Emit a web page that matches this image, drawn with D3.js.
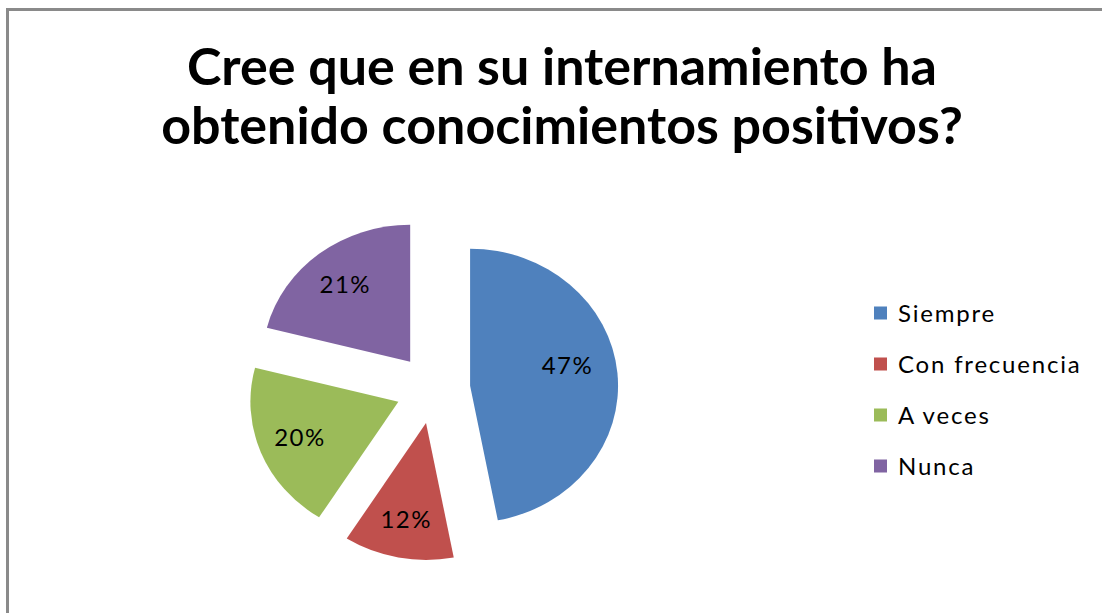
<!DOCTYPE html>
<html>
<head>
<meta charset="utf-8">
<script src="https://cdn.jsdelivr.net/npm/d3@7"></script>
<style>
  html, body { margin: 0; padding: 0; background: #fff; }
  svg { display: block; }
</style>
</head>
<body>
<svg id="chart" width="1102" height="613"></svg>
<script>
// ---- data ----
const titleLines = ["Cree que en su internamiento ha", "obtenido conocimientos positivos?"];
const categories = ["Siempre", "Con frecuencia", "A veces", "Nunca"];
const values = [47, 12, 20, 21];
const valueLabels = ["47%", "12%", "20%", "21%"];
const colors = ["#4F81BD", "#C0504D", "#9BBB59", "#8064A2"];

// ---- layout ----
const W = 1102, H = 613;
const cx = 433, cy = 389;       // pie centre
const R = 137;                  // radius (vertical)
const kx = 1.08;                // horizontal stretch of the picture
const explode = 34.5;           // explosion distance
const labelR = 98;
const labelShift = [[-8, -11], [0, 0], [0, 0], [0, 0]];

const svg = d3.select("#chart");

// border
svg.append("rect")
  .attr("x", 7.5).attr("y", 9.5)
  .attr("width", 1300).attr("height", 900)
  .attr("fill", "#fff")
  .attr("stroke", "#8a8a8a")
  .attr("stroke-width", 3);

// title
svg.append("g").selectAll("text")
  .data(titleLines)
  .join("text")
  .attr("x", 562)
  .attr("y", (d, i) => 85 + i * 59)
  .attr("text-anchor", "middle")
  .attr("font-family", "Lato, 'Open Sans', sans-serif")
  .attr("font-weight", "bold")
  .attr("font-size", 52)
  .attr("fill", "#000")
  .text(d => d);

// pie
const pie = d3.pie().sort(null).value(d => d);
const arcs = pie(values);
const arc = d3.arc().innerRadius(0).outerRadius(R);

const slices = svg.append("g");
arcs.forEach((a, i) => {
  const mid = (a.startAngle + a.endAngle) / 2;
  const ox = cx + kx * explode * Math.sin(mid);
  const oy = cy - explode * Math.cos(mid);
  slices.append("path")
    .attr("transform", `translate(${ox},${oy}) scale(${kx},1)`)
    .attr("d", arc(a))
    .attr("fill", colors[i]);
  const lx = ox + kx * labelR * Math.sin(mid) + labelShift[i][0];
  const ly = oy - labelR * Math.cos(mid) + labelShift[i][1];
  slices.append("text")
    .attr("x", lx).attr("y", ly)
    .attr("dy", "0.36em")
    .attr("text-anchor", "middle")
    .attr("font-family", "Lato, 'Open Sans', sans-serif")
    .attr("font-size", 24)
    .attr("letter-spacing", 1.5)
    .attr("fill", "#000")
    .text(valueLabels[i]);
});

// legend
const ly = d3.scalePoint().domain(categories).range([313, 466]);
const legend = svg.append("g").selectAll("g")
  .data(categories)
  .join("g")
  .attr("transform", d => `translate(874,${ly(d)})`);
legend.append("rect")
  .attr("x", 0).attr("y", -6.5)
  .attr("width", 13).attr("height", 13)
  .attr("fill", (d, i) => colors[i]);
legend.append("text")
  .attr("x", 24).attr("y", 0)
  .attr("dy", "0.36em")
  .attr("font-family", "Lato, 'Open Sans', sans-serif")
  .attr("font-size", 24)
  .attr("letter-spacing", 1.8)
  .attr("fill", "#000")
  .text(d => d);
</script>
</body>
</html>
